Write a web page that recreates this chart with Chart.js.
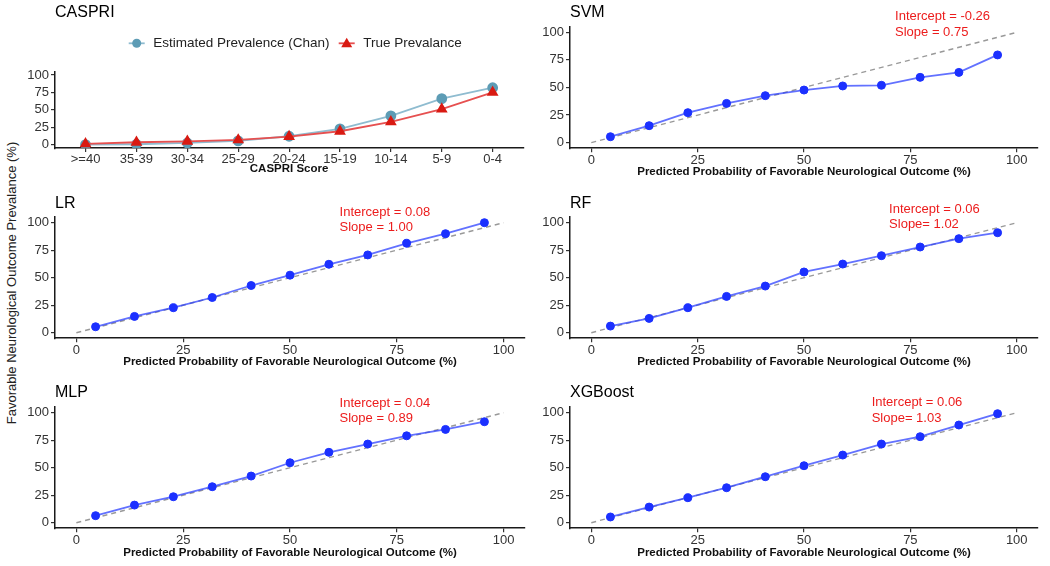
<!DOCTYPE html>
<html>
<head>
<meta charset="utf-8">
<script src="https://cdn.jsdelivr.net/npm/chart.js@4.4.1/dist/chart.umd.min.js"></script>
<style>
  body { margin: 0; background: #fff; width: 1050px; height: 566px; position: relative; overflow: hidden;
         font-family: "Liberation Sans", Arial, sans-serif; }
  canvas { position: absolute; }
  #ytitle { position: absolute; left: 11px; top: 283px; transform: translate(-50%, -50%) rotate(-90deg);
            white-space: nowrap; font-size: 13px; color: #222; }
</style>
</head>
<body>
<div id="ytitle">Favorable Neurological Outcome Prevalance (%)</div>
<canvas id="chartCaspri" width="510" height="176" style="left:20px;top:0px"></canvas>
<canvas id="chartSvm" width="515" height="179" style="left:535px;top:0px"></canvas>
<canvas id="chartLr" width="510" height="189" style="left:20px;top:180px"></canvas>
<canvas id="chartRf" width="515" height="189" style="left:535px;top:180px"></canvas>
<canvas id="chartMlp" width="510" height="190" style="left:20px;top:370px"></canvas>
<canvas id="chartXgb" width="515" height="190" style="left:535px;top:370px"></canvas>
<script>
var FONT = '"Liberation Sans", Arial, sans-serif';

// CASPRI panel
var caspriLabels = [">=40", "35-39", "30-34", "25-29", "20-24", "15-19", "10-14", "5-9", "0-4"];
var caspriEstimated = [0, 0.5, 2.4, 5.3, 12, 22.6, 41.3, 66, 81.7];
var caspriTrue = [1, 3.4, 4.8, 6.7, 11.5, 19.2, 32.7, 51, 75];

// calibration panels (bin midpoints, observed prevalence %)
var binMid = [4.5, 13.6, 22.7, 31.8, 40.9, 50, 59.1, 68.2, 77.3, 86.4, 95.5];
var svmObs = [5.4, 15.4, 27.2, 35.6, 42.6, 47.7, 51.4, 52, 59.2, 63.7, 79.5];
var lrObs = [5.4, 14.8, 22.7, 32, 42.9, 52.3, 62.2, 70.7, 81.3, 90, 100];
var rfObs = [6, 13, 22.7, 33, 42.4, 55.2, 62.4, 70, 77.9, 85.5, 90.9];
var mlpObs = [6.4, 16, 23.6, 32.7, 42.4, 54.5, 64, 71.5, 79, 84.8, 91.8];
var xgbObs = [5.2, 14.2, 22.7, 31.8, 41.8, 51.8, 61.5, 71.5, 78.2, 88.8, 99.1];
var refLine = [0, 100];
var axisTicks = [0, 25, 50, 75, 100];

var svmNote = ["Intercept = -0.26", "Slope = 0.75"];
var lrNote = ["Intercept = 0.08", "Slope = 1.00"];
var rfNote = ["Intercept = 0.06", "Slope= 1.02"];
var mlpNote = ["Intercept = 0.04", "Slope = 0.89"];
var xgbNote = ["Intercept = 0.06", "Slope= 1.03"];

var xTitle = "Predicted Probability of Favorable Neurological Outcome (%)";

// red intercept/slope text
var notesPlugin = {
  id: 'panelNotes',
  afterDraw: function(chart, args, opts) {
    if (!opts.lines) return;
    var ctx = chart.ctx;
    var px = chart.scales.x.getPixelForValue(opts.x);
    var py = chart.scales.y.getPixelForValue(opts.y);
    ctx.save();
    ctx.font = '13px ' + FONT;
    ctx.fillStyle = '#ec1c1c';
    ctx.textBaseline = 'middle';
    ctx.textAlign = 'left';
    opts.lines.forEach(function(t, i) { ctx.fillText(t, px, py + i * 15.5); });
    ctx.restore();
  }
};

// legend keys drawn like ggplot (line through marker)
var keyPlugin = {
  id: 'caspriKey',
  afterDraw: function(chart, args, opts) {
    if (!opts.items) return;
    var ctx = chart.ctx;
    ctx.save();
    ctx.font = '13.5px ' + FONT;
    ctx.textBaseline = 'middle';
    opts.items.forEach(function(it) {
      ctx.strokeStyle = it.line;
      ctx.lineWidth = 1.8;
      ctx.beginPath();
      ctx.moveTo(it.x - 8, opts.y);
      ctx.lineTo(it.x + 8, opts.y);
      ctx.stroke();
      ctx.fillStyle = it.color;
      ctx.beginPath();
      if (it.shape === 'triangle') {
        ctx.moveTo(it.x, opts.y - 5.5);
        ctx.lineTo(it.x + 5.5, opts.y + 4);
        ctx.lineTo(it.x - 5.5, opts.y + 4);
        ctx.closePath();
      } else {
        ctx.arc(it.x, opts.y, 4.5, 0, Math.PI * 2);
      }
      ctx.fill();
      ctx.fillStyle = '#222';
      ctx.fillText(it.text, it.x + 16.5, opts.y);
    });
    ctx.restore();
  }
};

function xAxis(title, h, ticks, labelFn) {
  return {
    type: 'linear', min: ticks === axisTicks ? -5 : -0.6, max: ticks === axisTicks ? 105 : 8.6,
    afterBuildTicks: function(s) { s.ticks = ticks.map(function(v) { return { value: v }; }); },
    afterFit: function(s) { s.height = h; },
    ticks: { padding: 0, color: '#333', font: { size: 13, family: FONT }, autoSkip: false, maxRotation: 0,
             callback: labelFn },
    grid: { display: true, drawOnChartArea: false, drawTicks: true, tickLength: 4, color: '#333', lineWidth: 1.2 },
    border: { display: true, color: '#1a1a1a', width: 1.5 },
    title: { display: true, text: title, color: '#111', font: { size: 11.5, weight: 'bold', family: FONT },
             padding: { top: 0, bottom: 0 } }
  };
}

function yAxis() {
  return {
    type: 'linear', min: -5, max: 105,
    afterBuildTicks: function(s) { s.ticks = axisTicks.map(function(v) { return { value: v }; }); },
    afterFit: function(s) { s.width = 35; },
    ticks: { padding: 2, color: '#333', font: { size: 13, family: FONT } },
    grid: { display: true, drawOnChartArea: false, drawTicks: true, tickLength: 4, color: '#333', lineWidth: 1.2 },
    border: { display: true, color: '#1a1a1a', width: 1.5 }
  };
}

function titleOpts(text, top, bottom) {
  return { display: true, text: text, align: 'start', fullSize: false, color: '#000',
           font: { size: 16, weight: 'normal', family: FONT }, padding: { top: top, bottom: bottom } };
}

function calibChart(id, name, obs, note, notePos, geo) {
  return new Chart(document.getElementById(id), {
    type: 'line',
    data: {
      datasets: [{
        data: refLine.map(function(v) { return { x: v, y: v }; }),
        borderColor: '#999', borderWidth: 1.4, borderDash: [5, 4], pointRadius: 0, order: 2
      }, {
        data: binMid.map(function(x, i) { return { x: x, y: obs[i] }; }),
        borderColor: 'rgba(45,65,255,0.75)', borderWidth: 1.8,
        pointRadius: 4, pointBackgroundColor: '#1b30ff', pointBorderColor: '#1b30ff', pointBorderWidth: 1, order: 1
      }]
    },
    options: {
      responsive: false, animation: false, events: [], devicePixelRatio: 1,
      layout: { padding: { top: 0, left: 0, right: geo.padR, bottom: geo.padB } },
      plugins: {
        legend: { display: false }, tooltip: { enabled: false },
        title: titleOpts(name, geo.tTop, geo.tBot),
        panelNotes: { lines: note, x: notePos[0], y: notePos[1] }
      },
      scales: { x: xAxis(xTitle, geo.xH, axisTicks), y: yAxis() }
    },
    plugins: [notesPlugin]
  });
}

new Chart(document.getElementById('chartCaspri'), {
  type: 'line',
  data: {
    datasets: [{
      data: caspriEstimated.map(function(v, i) { return { x: i, y: v }; }),
      borderColor: '#8fbcd0', borderWidth: 1.8, pointStyle: 'circle', pointRadius: 4.5,
      pointBackgroundColor: '#5d9cb5', pointBorderColor: '#5d9cb5', order: 2
    }, {
      data: caspriTrue.map(function(v, i) { return { x: i, y: v }; }),
      borderColor: '#e65050', borderWidth: 1.8, pointStyle: 'triangle', pointRadius: 5,
      pointBackgroundColor: '#d91a12', pointBorderColor: '#d91a12', order: 1
    }]
  },
  options: {
    responsive: false, animation: false, events: [], devicePixelRatio: 1,
    layout: { padding: { top: 0, left: 0, right: 1, bottom: 0.7 } },
    plugins: {
      legend: { display: false }, tooltip: { enabled: false },
      title: titleOpts('CASPRI', 2.9, 49.4),
      caspriKey: { y: 43.3, items: [
        { x: 116.7, text: 'Estimated Prevalence (Chan)', color: '#5d9cb5', line: '#8fbcd0', shape: 'circle' },
        { x: 326.7, text: 'True Prevalance', color: '#d91a12', line: '#e65050', shape: 'triangle' }
      ] }
    },
    scales: {
      x: xAxis('CASPRI Score', 27.2, caspriLabels.map(function(c, i) { return i; }),
               function(v) { return caspriLabels[v]; }),
      y: yAxis()
    }
  },
  plugins: [keyPlugin]
});

calibChart('chartSvm', 'SVM', svmObs, svmNote, [71.4, 114.1], { padR: 12, padB: 0, tTop: 3.1, tBot: 4.5, xH: 30.8 });
calibChart('chartLr', 'LR', lrObs, lrNote, [61.6, 109.4], { padR: 2.8, padB: 0, tTop: 13.7, tBot: 4.3, xH: 30.8 });
calibChart('chartRf', 'RF', rfObs, rfNote, [70, 112.4], { padR: 12, padB: 0, tTop: 13.7, tBot: 4.3, xH: 30.8 });
calibChart('chartMlp', 'MLP', mlpObs, mlpNote, [61.6, 108.5], { padR: 2.8, padB: 0.1, tTop: 13.1, tBot: 4.9, xH: 31.7 });
calibChart('chartXgb', 'XGBoost', xgbObs, xgbNote, [65.9, 109], { padR: 12, padB: 0.1, tTop: 13.1, tBot: 4.9, xH: 31.7 });
</script>
</body>
</html>
